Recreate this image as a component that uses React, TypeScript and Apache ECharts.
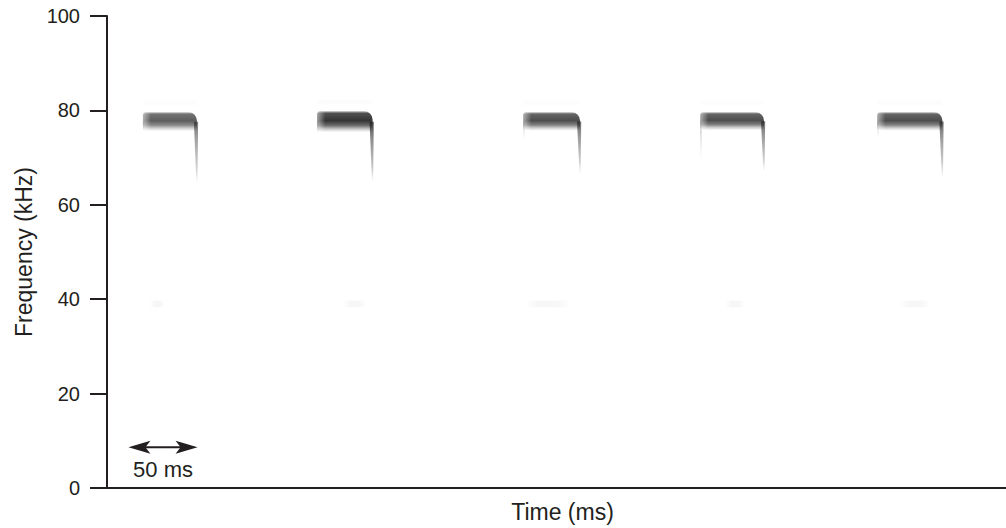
import React, { useEffect, useRef } from "react";
import * as echarts from "echarts";

// Time axis (ms) and frequency axis (kHz)
const timeRange = [0, 650];
const freqRange = [0, 100];
const freqInterval = 20;

// Echolocation calls (constant-frequency part + downward FM sweep)
const callStartMs = [26, 152, 301, 429, 557];
const callEndMs = [65, 192, 342, 475, 604];
const cfTopKHz = [79.6, 79.8, 79.6, 79.6, 79.6];
const cfBottomKHz = [75.6, 75.4, 75.7, 75.8, 75.7];
const fmEndKHz = [64.5, 64.8, 66.5, 67.0, 65.8];
const onsetKHz = [75.5, 75.0, 73.5, 69.0, 74.0];
const callIntensity = [0.8, 1.0, 0.88, 0.88, 0.88];

// Faint energy near 39 kHz
const faintStartMs = [31, 171, 302, 447, 573];
const faintEndMs = [42, 187, 335, 461, 595];
const faintKHz = [39, 39, 39, 39, 39];

// Scale bar
const scaleBarMs = [15.5, 65.5];
const scaleBarKHz = 8.65;
const scaleBarLabel = "50 ms";

const INK = "#231f20";
const FONT = "'Liberation Sans', Arial, Helvetica, sans-serif";

export default function App() {
  const ref = useRef<HTMLDivElement>(null);

  useEffect(() => {
    if (!ref.current) return;
    const chart = echarts.init(ref.current, undefined, { renderer: "svg" });

    const callData = callStartMs.map((s, i) => [
      s,
      callEndMs[i],
      cfTopKHz[i],
      cfBottomKHz[i],
      fmEndKHz[i],
      onsetKHz[i],
      callIntensity[i],
    ]);
    const faintData = faintStartMs.map((s, i) => [s, faintEndMs[i], faintKHz[i]]);

    const grey = (a: number) => `rgba(30,30,30,${Math.max(0, Math.min(1, a)).toFixed(3)})`;

    const option: any = {
      animation: false,
      backgroundColor: "#ffffff",
      grid: { left: 107, right: 0, top: 16, bottom: 38, containLabel: false },
      xAxis: {
        type: "value",
        min: timeRange[0],
        max: timeRange[1],
        name: "Time (ms)",
        nameLocation: "middle",
        nameGap: 12,
        nameTextStyle: { color: INK, fontSize: 23, fontFamily: FONT, verticalAlign: "top", padding: [0, 0, 0, 12] },
        axisLine: { show: true, onZero: false, lineStyle: { color: INK, width: 2 } },
        axisTick: { show: false },
        axisLabel: { show: false },
        splitLine: { show: false },
      },
      yAxis: {
        type: "value",
        min: freqRange[0],
        max: freqRange[1],
        interval: freqInterval,
        name: "Frequency (kHz)",
        nameLocation: "middle",
        nameGap: 72,
        nameTextStyle: { color: INK, fontSize: 23, fontFamily: FONT },
        axisLine: { show: true, lineStyle: { color: INK, width: 2 } },
        axisTick: { show: true, length: 17, lineStyle: { color: INK, width: 2 } },
        axisLabel: { color: INK, fontSize: 20, fontFamily: FONT, margin: 27 },
        splitLine: { show: false },
      },
      series: [
        {
          type: "custom",
          name: "faint",
          data: faintData,
          silent: true,
          renderItem: (params: any, api: any) => {
            const a = api.coord([api.value(0), api.value(2) + 0.7]);
            const b = api.coord([api.value(1), api.value(2) - 0.7]);
            return {
              type: "rect",
              shape: { x: a[0], y: a[1], width: b[0] - a[0], height: b[1] - a[1] },
              style: {
                fill: {
                  type: "linear",
                  x: 0, y: 0, x2: 1, y2: 0,
                  colorStops: [
                    { offset: 0, color: "rgba(120,120,120,0)" },
                    { offset: 0.3, color: "rgba(120,120,120,0.06)" },
                    { offset: 0.7, color: "rgba(120,120,120,0.06)" },
                    { offset: 1, color: "rgba(120,120,120,0)" },
                  ],
                },
              },
            };
          },
        },
        {
          type: "custom",
          name: "calls",
          data: callData,
          silent: true,
          renderItem: (params: any, api: any) => {
            const t0 = api.value(0);
            const t1 = api.value(1);
            const fTop = api.value(2);
            const fBot = api.value(3);
            const fEnd = api.value(4);
            const fOn = api.value(5);
            const k = api.value(6);
            const pTop = api.coord([t0, fTop]);
            const pBot = api.coord([t1, fBot]);
            const x0 = pTop[0];
            const x1 = pBot[0];
            const yTop = pTop[1];
            const yBot = pBot[1];
            const yMid = api.coord([t1, fTop * 0.5 + fBot * 0.5])[1];
            const yEnd = api.coord([t1, fEnd])[1];
            const yOn = api.coord([t0, fOn])[1];
            const yHazeTop = api.coord([t0, fTop + 2.8])[1];
            const yHazeBot = api.coord([t0, fTop + 1.2])[1];
            const w = x1 - x0;
            return {
              type: "group",
              children: [
                {
                  type: "rect",
                  shape: { x: x0, y: yHazeTop, width: w, height: yHazeBot - yHazeTop },
                  style: {
                    fill: {
                      type: "linear",
                      x: 0, y: 0, x2: 0, y2: 1,
                      colorStops: [
                        { offset: 0, color: "rgba(150,150,150,0)" },
                        { offset: 0.5, color: "rgba(150,150,150,0.035)" },
                        { offset: 1, color: "rgba(150,150,150,0)" },
                      ],
                    },
                  },
                },
                {
                  type: "polygon",
                  shape: {
                    points: [
                      [x0 - 0.3, yMid],
                      [x0 + 1.5, yMid],
                      [x0 + 0.9, yOn],
                      [x0 + 0.3, yOn],
                    ],
                  },
                  style: {
                    fill: {
                      type: "linear",
                      x: 0, y: 0, x2: 0, y2: 1,
                      colorStops: [
                        { offset: 0, color: grey(0.3 * k) },
                        { offset: 1, color: grey(0) },
                      ],
                    },
                  },
                },
                {
                  type: "polygon",
                  shape: {
                    points: [
                      [x1 - 3, yMid],
                      [x1 + 1.2, yMid],
                      [x1 + 0.6, yEnd],
                      [x1 - 0.5, yEnd],
                    ],
                  },
                  style: {
                    fill: {
                      type: "linear",
                      x: 0, y: 0, x2: 0, y2: 1,
                      colorStops: [
                        { offset: 0, color: grey(0.75 * k) },
                        { offset: 0.3, color: grey(0.5 * k) },
                        { offset: 0.75, color: grey(0.25 * k) },
                        { offset: 1, color: grey(0) },
                      ],
                    },
                  },
                },
                {
                  type: "rect",
                  shape: { x: x0, y: yTop, width: w, height: yBot - yTop, r: [3, 8, 3, 2] },
                  style: {
                    fill: {
                      type: "linear",
                      x: 0, y: 0, x2: 0, y2: 1,
                      colorStops: [
                        { offset: 0, color: grey(0.35 * k) },
                        { offset: 0.1, color: grey(0.78 * k) },
                        { offset: 0.45, color: grey(0.9 * k) },
                        { offset: 0.68, color: grey(0.65 * k) },
                        { offset: 0.85, color: grey(0.25 * k) },
                        { offset: 1, color: grey(0) },
                      ],
                    },
                  },
                },
                {
                  type: "rect",
                  shape: { x: x0, y: yTop, width: Math.min(8, w / 4), height: yBot - yTop },
                  style: {
                    fill: {
                      type: "linear",
                      x: 0, y: 0, x2: 1, y2: 0,
                      colorStops: [
                        { offset: 0, color: "rgba(255,255,255,0.5)" },
                        { offset: 1, color: "rgba(255,255,255,0)" },
                      ],
                    },
                  },
                },
              ],
            };
          },
        },
        {
          type: "custom",
          name: "scale",
          data: [[scaleBarMs[0], scaleBarMs[1], scaleBarKHz]],
          silent: true,
          renderItem: (params: any, api: any) => {
            const a = api.coord([api.value(0), api.value(2)]);
            const b = api.coord([api.value(1), api.value(2)]);
            const y = a[1];
            const xa = a[0];
            const xb = b[0];
            const L = 22;
            const H = 6.5;
            const N = 17;
            return {
              type: "group",
              children: [
                {
                  type: "line",
                  shape: { x1: xa + 10, y1: y, x2: xb - 10, y2: y },
                  style: { stroke: INK, lineWidth: 2 },
                },
                {
                  type: "polygon",
                  shape: { points: [[xa, y], [xa + L, y - H], [xa + N, y], [xa + L, y + H]] },
                  style: { fill: INK },
                },
                {
                  type: "polygon",
                  shape: { points: [[xb, y], [xb - L, y - H], [xb - N, y], [xb - L, y + H]] },
                  style: { fill: INK },
                },
                {
                  type: "text",
                  style: {
                    x: (xa + xb) / 2,
                    y: y + 22,
                    text: scaleBarLabel,
                    fill: INK,
                    font: `22px ${FONT}`,
                    align: "center",
                    verticalAlign: "middle",
                  },
                },
              ],
            };
          },
        },
      ],
    };

    chart.setOption(option);
    return () => chart.dispose();
  }, []);

  return (
    <div
      ref={ref}
      style={{ position: "fixed", left: 0, top: 0, width: 1006, height: 528, background: "#fff" }}
    />
  );
}
